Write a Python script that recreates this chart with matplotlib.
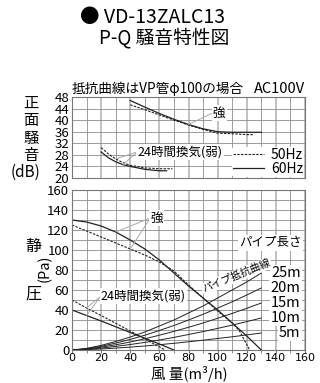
import numpy as np
import matplotlib
matplotlib.use('Agg')
import matplotlib.pyplot as plt

plt.rcParams['font.family'] = ['Noto Sans CJK JP', 'DejaVu Sans']

# 騒音特性 (正面騒音 dB) - 強
q_strong60 = [40, 50, 60, 70, 80, 90, 100, 110, 120, 130]
db_strong60 = [46.8, 44.5, 42.3, 40.3, 38.5, 37.0, 36.0, 35.8, 35.8, 35.8]
q_strong50 = [40, 50, 60, 70, 80, 90, 100, 110, 120, 125]
db_strong50 = [45.3, 43.6, 41.8, 40.0, 38.3, 36.8, 35.5, 35.3, 35.0, 35.0]

# 騒音特性 - 24時間換気(弱)
q_weak60 = [20, 25, 30, 35, 40, 50, 60, 65]
db_weak60 = [29.0, 27.0, 25.6, 24.6, 24.0, 23.0, 22.5, 22.5]
q_weak50 = [20, 25, 30, 35, 40, 50, 60, 69]
db_weak50 = [30.5, 28.3, 26.6, 25.3, 24.4, 23.5, 23.2, 23.2]

# P-Q 特性 (静圧 Pa) - 強
q_pq_strong60 = [0, 10, 20, 30, 40, 50, 60, 70, 80, 90, 100, 110, 120, 130]
pa_strong60 = [130, 128, 124, 118, 110, 101, 90, 77, 64, 52, 40, 27, 14, 0]
q_pq_strong50 = [0, 10, 20, 30, 40, 50, 60, 70, 80, 90, 100, 110, 115, 122]
pa_strong50 = [125, 119, 113, 107, 101, 95, 88, 79, 65, 52, 39, 27, 19, 0]

# P-Q 特性 - 24時間換気(弱)
q_pq_weak60 = [0, 10, 20, 40, 60, 70]
pa_weak60 = [40, 34.5, 29, 17.5, 6, 0]
q_pq_weak50 = [0, 10, 20, 40, 64]
pa_weak50 = [50, 42, 34.5, 19, 0]

# パイプ抵抗曲線
q_pipe = [0, 10, 20, 30, 40, 50, 60, 70, 80, 90, 100, 110, 120, 130]
pipe_lengths = ['25m', '20m', '15m', '10m', '5m']
pipe_25 = [0, 1.6, 4.6, 8.5, 13, 18, 24, 30, 37, 44, 52, 60, 68, 77]
pipe_20 = [0, 1.3, 3.7, 6.9, 10.6, 14.8, 19.5, 24.5, 30, 35.7, 41.9, 48.2, 55, 62]
pipe_15 = [0, 1.0, 2.8, 5.2, 8.0, 11.2, 14.8, 18.6, 22.7, 27, 31.7, 36.6, 41.7, 47]
pipe_10 = [0, 0.7, 1.9, 3.6, 5.5, 7.6, 10, 12.6, 15.5, 18.4, 21.6, 24.9, 28.4, 32]
pipe_5 = [0, 0.4, 1.0, 1.9, 2.9, 4.0, 5.3, 6.7, 8.2, 9.8, 11.5, 13.2, 15.1, 17]
pipes = [pipe_25, pipe_20, pipe_15, pipe_10, pipe_5]

line_c = '#222222'
grid_c = '#8c8c8c'
lead_c = '#aaaaaa'
dash = (0, (2.2, 1.2))
white = dict(boxstyle='square,pad=0.1', fc='white', ec='none')
lead = dict(arrowstyle='-', color=lead_c, lw=0.7, shrinkA=0, shrinkB=0, relpos=(0, 0.5))

fig = plt.figure(figsize=(3.2, 3.83), dpi=100)
W, H = 320, 383
ax1 = fig.add_axes([72 / W, 1 - 178 / H, 233 / W, 81 / H])
ax2 = fig.add_axes([72 / W, 1 - 350 / H, 233 / W, 160 / H])

for ax in (ax1, ax2):
    ax.set_xlim(0, 160)
    ax.set_xticks(np.arange(0, 161, 20))
    ax.set_xticks(np.arange(0, 161, 10), minor=True)
    ax.grid(True, which='minor', axis='x', color=grid_c, lw=0.6)
    ax.grid(True, which='major', axis='x', color='#b0b0b0', lw=1.1)
    for s in ax.spines.values():
        s.set_color('#777777')
        s.set_linewidth(0.8)
    ax.set_axisbelow(True)

# 上段: 騒音
ax1.set_ylim(20, 48)
ax1.set_yticks(np.arange(20, 49, 4))
ax1.grid(True, which='major', axis='y', color=grid_c, lw=0.6)
ax1.tick_params(axis='x', which='both', length=0, labelbottom=False)
ax1.tick_params(axis='y', length=0, pad=2, labelsize=9.5)

l60, = ax1.plot(q_strong60, db_strong60, color=line_c, lw=0.9, label='60Hz')
l50, = ax1.plot(q_strong50, db_strong50, color=line_c, lw=0.8, ls=dash, label='50Hz')
ax1.plot(q_weak60, db_weak60, color=line_c, lw=0.9)
ax1.plot(q_weak50, db_weak50, color=line_c, lw=0.8, ls=dash)

ax1.annotate('強', xy=(q_strong60[4], db_strong60[4]), xytext=(101, 42.5),
             fontsize=9, ha='center', va='center', bbox=white, arrowprops=lead)
for qq, dd in [(q_weak50[2], db_weak50[2]), (q_weak60[3], db_weak60[3])]:
    ax1.annotate('24時間換気(弱)', xy=(qq, dd), xytext=(74, 29.0),
                 fontsize=9, ha='center', va='center', bbox=white, arrowprops=lead)

leg = ax1.legend(handles=[l50, l60], loc='lower right', fontsize=10, frameon=True,
                 handlelength=2.2, handletextpad=0.5, labelspacing=0.0,
                 borderaxespad=0.05, borderpad=0.1)
leg.get_frame().set_facecolor('white')
leg.get_frame().set_edgecolor('none')
leg.get_frame().set_alpha(1)

# 下段: P-Q
ax2.set_ylim(0, 160)
ax2.set_yticks(np.arange(0, 161, 20))
ax2.set_yticks(np.arange(0, 161, 10), minor=True)
ax2.grid(True, which='both', axis='y', color=grid_c, lw=0.6)
ax2.tick_params(axis='y', which='both', length=0, pad=2, labelsize=9.5)
ax2.tick_params(axis='x', which='both', length=2, color='#777777', pad=0)
for lab in ax2.get_xticklabels():
    lab.set_family(['Liberation Sans Narrow', 'DejaVu Sans'])
    lab.set_fontsize(8)

for vals in pipes:
    ax2.plot(q_pipe, vals, color=line_c, lw=0.7)
for name, vals in zip(pipe_lengths, pipes):
    ax2.text(157, vals[-1], name, fontsize=10.5, ha='right', va='center', bbox=white)

ax2.plot(q_pq_strong60, pa_strong60, color=line_c, lw=0.9)
ax2.plot(q_pq_strong50, pa_strong50, color=line_c, lw=0.8, ls=dash)
ax2.plot(q_pq_weak60, pa_weak60, color=line_c, lw=0.9)
ax2.plot(q_pq_weak50, pa_weak50, color=line_c, lw=0.8, ls=dash)

for qq, pp in [(q_pq_strong60[3], pa_strong60[3]), (q_pq_strong50[4], pa_strong50[4])]:
    ax2.annotate('強', xy=(qq, pp), xytext=(58, 132), fontsize=9, ha='center', va='center',
                 bbox=white, arrowprops=lead)
for qq, pp in [(q_pq_weak50[1], pa_weak50[1]), (q_pq_weak60[1], pa_weak60[1])]:
    ax2.annotate('24時間換気(弱)', xy=(qq, pp), xytext=(49, 54), fontsize=9,
                 ha='center', va='center', bbox=white, arrowprops=lead)

ax2.text(158, 107, 'パイプ長さ', fontsize=9, ha='right', va='center', bbox=white)
ax2.text(113, 74, 'パイプ抵抗曲線', fontsize=7.5, ha='center', va='center', rotation=22,
         bbox=white)

# タイトル・軸ラベル
fig.text(152 / W, 1 - 18 / H, '● VD-13ZALC13', fontsize=14, ha='center', va='center')
fig.text(164 / W, 1 - 38 / H, 'P-Q 騒音特性図', fontsize=13.5, ha='center', va='center')
fig.text(72 / W, 1 - 89 / H, '抵抗曲線はVP管φ100の場合', fontsize=9.8, ha='left', va='center')
fig.text(305 / W, 1 - 89 / H, 'AC100V', fontsize=10.5, ha='right', va='center')

for i, ch in enumerate('正面騒音'):
    fig.text(31 / W, 1 - (103 + i * 17.5) / H, ch, fontsize=11, ha='center', va='center')
fig.text(26 / W, 1 - 172 / H, '(dB)', fontsize=11, ha='center', va='center')

fig.text(33 / W, 1 - 246 / H, '静', fontsize=11.5, ha='center', va='center')
fig.text(33 / W, 1 - 294 / H, '圧', fontsize=11.5, ha='center', va='center')
fig.text(45 / W, 1 - 268 / H, '(Pa)', fontsize=10.5, ha='center', va='center', rotation=90)
fig.text(189 / W, 1 - 374 / H, '風 量(m³/h)', fontsize=10.5, ha='center', va='center')

fig.savefig('out.png', dpi=100)
